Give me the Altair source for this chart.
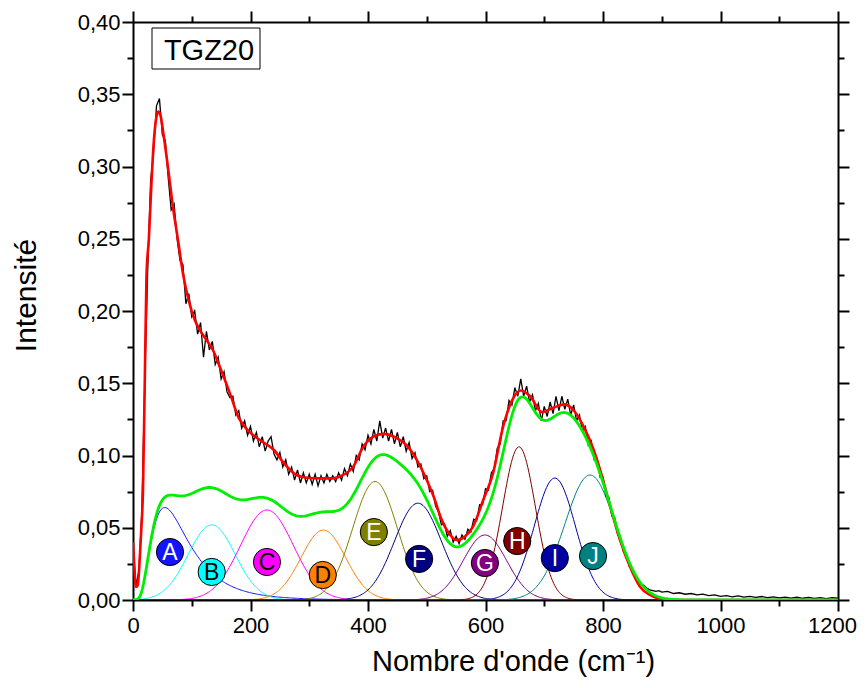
import altair as alt
import numpy as np
import pandas as pd

FONT = "Liberation Sans"

# ---------------- data ----------------
# fitted components
peak_labels = ["A", "B", "C", "D", "E", "F", "G", "H", "I", "J"]
peak_profiles = ["lognormal", "gauss", "gauss", "gauss", "gauss", "gauss", "gauss", "gauss", "gauss", "gauss"]
peak_centers = [54, 134, 228, 324, 412, 485, 599, 657, 718, 778]
peak_heights = [0.064, 0.052, 0.0623, 0.0484, 0.082, 0.067, 0.045, 0.106, 0.0844, 0.0865]
peak_widths = [0.58, 40, 45, 38, 38, 40, 37, 28, 35, 43]
peak_colors = ["#1414FF", "#00FFFF", "#FF00FF", "#FF8000", "#808000",
               "#000080", "#800080", "#800000", "#0000A0", "#008080"]
badge_text_colors = ["white", "black", "black", "black", "white",
                     "white", "white", "white", "white", "white"]
badge_x = [63, 134, 228, 323, 410, 487, 599, 654, 718, 783]
badge_y = [0.0332, 0.0194, 0.0263, 0.0173, 0.047, 0.0284, 0.0256, 0.0408, 0.029, 0.0304]

# total fit (red)
red_x = [0, 2, 5, 8, 11, 14, 17, 20, 23, 27, 31, 35, 39, 43, 47, 52, 60, 68, 77, 85,
         95, 105, 115, 125, 136, 150, 165, 180, 198, 220, 240, 255, 278, 300, 320, 340, 355, 375, 392, 409,
         426, 449, 466, 483, 500, 514, 523, 538, 551, 565, 579, 596, 613, 630, 645, 660, 676, 696, 715, 735,
         752, 767, 784, 798, 812, 829, 846, 863, 880, 902, 930, 1000, 1100, 1200]
red_y = [0.040, 0.025, 0.009, 0.010, 0.025, 0.048, 0.076, 0.150, 0.225, 0.250, 0.285, 0.315, 0.332, 0.338, 0.335, 0.322, 0.298, 0.272, 0.248, 0.226,
         0.207, 0.194, 0.186, 0.180, 0.173, 0.159, 0.143, 0.126, 0.1165, 0.1096, 0.1038, 0.0957, 0.0865, 0.0844, 0.0842, 0.0842, 0.086, 0.0923, 0.106, 0.113,
         0.115, 0.112, 0.107, 0.097, 0.083, 0.069, 0.058, 0.046, 0.0415, 0.044, 0.051, 0.069, 0.088, 0.120, 0.138, 0.145, 0.141, 0.130, 0.133, 0.1354,
         0.1303, 0.120, 0.104, 0.086, 0.065, 0.0415, 0.023, 0.0092, 0.0035, 0.0005, 0.0, 0.0, 0.0, 0.0]

# measured spectrum (black)
black_x = list(range(0, 901, 5)) + list(range(910, 1201, 10))
black_y = [
    0.038, 0.010, 0.020, 0.060, 0.150, 0.228, 0.290, 0.310, 0.342, 0.347,
    0.322, 0.318, 0.292, 0.270, 0.274, 0.250, 0.235, 0.232, 0.205, 0.212,
    0.196, 0.200, 0.184, 0.192, 0.168, 0.186, 0.173, 0.179, 0.163, 0.168,
    0.153, 0.158, 0.144, 0.140, 0.141, 0.128, 0.131, 0.119, 0.124, 0.114,
    0.120, 0.110, 0.116, 0.106, 0.113, 0.103, 0.110, 0.113, 0.101, 0.097,
    0.102, 0.092, 0.097, 0.087, 0.092, 0.083, 0.090, 0.081, 0.088, 0.081,
    0.087, 0.080, 0.087, 0.079, 0.086, 0.081, 0.087, 0.082, 0.086, 0.082,
    0.088, 0.083, 0.091, 0.086, 0.094, 0.089, 0.100, 0.097, 0.108, 0.104,
    0.114, 0.108, 0.118, 0.110, 0.124, 0.112, 0.119, 0.110, 0.118, 0.108,
    0.116, 0.106, 0.113, 0.103, 0.109, 0.098, 0.102, 0.092, 0.094, 0.084,
    0.086, 0.075, 0.076, 0.065, 0.061, 0.052, 0.053, 0.044, 0.048, 0.040,
    0.044, 0.039, 0.045, 0.042, 0.049, 0.047, 0.056, 0.055, 0.066, 0.066,
    0.077, 0.076, 0.088, 0.091, 0.105, 0.108, 0.124, 0.124, 0.138, 0.135,
    0.147, 0.141, 0.153, 0.141, 0.148, 0.137, 0.142, 0.131, 0.136, 0.124,
    0.134, 0.127, 0.137, 0.129, 0.141, 0.131, 0.141, 0.132, 0.139, 0.128,
    0.135, 0.124, 0.128, 0.117, 0.120, 0.107, 0.110, 0.097, 0.098, 0.085,
    0.085, 0.072, 0.071, 0.058, 0.057, 0.045, 0.043, 0.033, 0.032, 0.023,
    0.021, 0.016, 0.013, 0.011, 0.010, 0.008, 0.007, 0.0065, 0.006, 0.0065,
    0.0055,
    0.006, 0.0045, 0.005, 0.004, 0.0045, 0.0035, 0.004, 0.003, 0.0035, 0.0025,
    0.003, 0.0022, 0.0028, 0.002, 0.0025, 0.0018, 0.0024, 0.0016, 0.0022, 0.0015,
    0.002, 0.0013, 0.0019, 0.0012, 0.0018, 0.0011, 0.0017, 0.001, 0.0016, 0.0012,
]

sample_name = "TGZ20"
x_title = "Nombre d'onde (cm\u207b\u00b9)"
y_title = "Intensité"
x_tick_values = list(range(0, 1201, 100))
y_tick_values = [round(i * 0.025, 3) for i in range(17)]

# ---------------- build tables ----------------
x_grid = np.arange(0, 1201, 2.0)


def profile(kind, c, h, w, x):
    if kind == "lognormal":
        xp = np.where(x > 0, x, 1.0)
        return np.where(x > 0, h * np.exp(-np.log(xp / c) ** 2 / (2 * w * w)), 0.0)
    return h * np.exp(-0.5 * ((x - c) / w) ** 2)


comp_curves = {lab: profile(k, c, h, w, x_grid)
               for lab, k, c, h, w in zip(peak_labels, peak_profiles, peak_centers, peak_heights, peak_widths)}
draw_order = [l for l in peak_labels if l != "H"] + ["H"]
comp_df = pd.DataFrame({
    "x": np.tile(x_grid, len(draw_order)),
    "y": np.concatenate([comp_curves[l] for l in draw_order]),
    "peak": np.repeat(draw_order, len(x_grid)),
})
green_df = pd.DataFrame({"x": x_grid, "y": np.sum([comp_curves[l] for l in peak_labels], axis=0)})
red_df = pd.DataFrame({"x": red_x, "y": red_y})
black_df = pd.DataFrame({"x": black_x, "y": black_y})
badge_df = pd.DataFrame({"x": badge_x, "y": badge_y, "peak": peak_labels, "tc": badge_text_colors})

# ---------------- scales & axes ----------------
xs = alt.Scale(domain=[0, 1200], nice=False, zero=False)
ys = alt.Scale(domain=[0, 0.4], nice=False, zero=False)
cs = alt.Scale(domain=peak_labels, range=peak_colors)

x_major = "datum.value % 200 === 0"
y_major = "round(datum.value * 1000) % 50 === 0"

common = dict(
    grid=False, domainColor="black", domainWidth=2, tickColor="black", tickWidth=2,
    labelFont=FONT, labelColor="black", labelFontSize=22, titleFont=FONT,
    titleColor="black", titleFontWeight="normal", labelOverlap=False, labelFlush=False,
)

x_axis_bottom = alt.Axis(
    orient="bottom", values=x_tick_values, format="d",
    labelExpr=f"{x_major} ? datum.label : ''",
    tickSize={"condition": {"test": x_major, "value": 11}, "value": 6},
    labelOffset={"condition": {"test": "datum.value === 1200", "value": -6}, "value": 0},
    labelPadding=4, title=x_title, titleFontSize=29,
    titleX=380, titleY=70, titleBaseline="alphabetic", titleAlign="center", **common,
)
y_axis_left = alt.Axis(
    orient="left", values=y_tick_values,
    labelExpr=f"{y_major} ? replace(format(datum.value, '.2f'), '.', ',') : ''",
    tickSize={"condition": {"test": y_major, "value": 11}, "value": 6},
    labelPadding=2, title=y_title, titleFontSize=30, titleAngle=270,
    titleX=-98, titleY=273, titleBaseline="alphabetic", titleAlign="center", **common,
)
x_axis_top = alt.Axis(
    orient="top", values=x_tick_values, labels=False, title="",
    tickSize={"condition": {"test": x_major, "value": 11}, "value": 6}, **common,
)
y_axis_right = alt.Axis(
    orient="right", values=y_tick_values, labels=False, title="",
    tickSize={"condition": {"test": y_major, "value": 11}, "value": 6}, **common,
)

X = alt.X("x:Q", scale=xs, axis=x_axis_bottom)
Y = alt.Y("y:Q", scale=ys, axis=y_axis_left)

black_line = alt.Chart(black_df).mark_line(color="black", strokeWidth=1.3, clip=True).encode(x=X, y=Y)
red_line = alt.Chart(red_df).mark_line(color="#FF0000", strokeWidth=2.6, interpolate="monotone", clip=True).encode(x=X, y=Y)
green_line = alt.Chart(green_df).mark_line(color="#00EE00", strokeWidth=2.8, clip=True).encode(x=X, y=Y)
comp_lines = alt.Chart(comp_df).mark_line(strokeWidth=1, clip=True).encode(
    x=X, y=Y, color=alt.Color("peak:N", scale=cs, legend=None), detail="peak:N",
    order=alt.Order("x:Q"),
)
badges = alt.Chart(badge_df).mark_circle(size=740, opacity=1, stroke="black", strokeWidth=1).encode(
    x=X, y=Y, color=alt.Color("peak:N", scale=cs, legend=None)
)
badge_text = alt.Chart(badge_df).mark_text(font=FONT, fontSize=23, align="center", baseline="middle", dy=1).encode(
    x=X, y=Y, text="peak:N", color=alt.Color("tc:N", scale=None)
)

tag_df = pd.DataFrame({"t": [sample_name]})
tag_box = alt.Chart(tag_df).mark_rect(fill="white", stroke="black", strokeWidth=1).encode(
    x=alt.value(19), x2=alt.value(127), y=alt.value(6), y2=alt.value(47)
)
tag_text = alt.Chart(tag_df).mark_text(font=FONT, fontSize=29, align="center", baseline="alphabetic", color="black").encode(
    x=alt.value(76), y=alt.value(38), text="t:N"
)

main = alt.layer(comp_lines, black_line, red_line, green_line, badges, badge_text, tag_box, tag_text)

carrier_df = pd.DataFrame({"x": [0, 1200], "y": [0, 0]})
carrier = alt.Chart(carrier_df).mark_line(opacity=0).encode(
    x=alt.X("x:Q", scale=xs, axis=x_axis_top),
    y=alt.Y("y:Q", scale=ys, axis=y_axis_right),
)

chart = (
    alt.layer(main, carrier)
    .resolve_scale(x="independent", y="independent")
    .properties(
        width=705, height=578,
        padding={"left": 125, "top": 14, "right": 20, "bottom": 78},
        autosize=alt.AutoSizeParams(type="none"),
        background="white",
    )
    .configure_view(strokeWidth=0)
)

chart.save("out.html", embed_options={"renderer": "svg", "actions": False})
